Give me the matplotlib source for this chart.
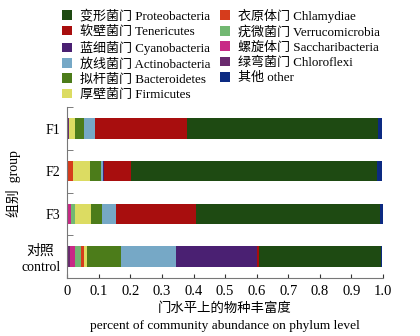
import matplotlib.pyplot as plt
import numpy as np

plt.rcParams['font.family'] = ['Liberation Serif', 'Noto Sans CJK SC']
plt.rcParams['font.size'] = 9.5

groups = ['F1', 'F2', 'F3', '对照\ncontrol']

# stacking order, left to right
phyla = ['绿弯菌门 Chloroflexi', '螺旋体门 Saccharibacteria', '疣微菌门 Verrucomicrobia',
         '衣原体门 Chlamydiae', '厚壁菌门 Firmicutes', '拟杆菌门 Bacteroidetes',
         '放线菌门 Actinobacteria', '蓝细菌门 Cyanobacteria', '软壁菌门 Tenericutes',
         '变形菌门 Proteobacteria', '其他 other']
colors = ['#6a2a6e', '#c82a86', '#72b872', '#d63c1c', '#dcdc62', '#4c7c1a',
          '#76a8c6', '#4a2072', '#a80e0e', '#1e4a12', '#0c2a82']

chloroflexi = [0.006, 0.0, 0.004, 0.0095]
saccharibacteria = [0.0, 0.0, 0.008, 0.016]
verrucomicrobia = [0.0, 0.0, 0.013, 0.018]
chlamydiae = [0.0, 0.018, 0.0, 0.010]
firmicutes = [0.020, 0.054, 0.050, 0.0085]
bacteroidetes = [0.026, 0.035, 0.034, 0.109]
actinobacteria = [0.035, 0.006, 0.046, 0.172]
cyanobacteria = [0.0, 0.005, 0.0, 0.259]
tenericutes = [0.293, 0.083, 0.252, 0.006]
proteobacteria = [0.605, 0.781, 0.584, 0.385]
other = [0.012, 0.015, 0.0095, 0.005]

values = [chloroflexi, saccharibacteria, verrucomicrobia, chlamydiae, firmicutes,
          bacteroidetes, actinobacteria, cyanobacteria, tenericutes, proteobacteria, other]

fig = plt.figure(figsize=(4.2, 3.36), dpi=100)
ax = fig.add_axes([0.160, 0.173, 0.752, 0.508])

y = np.arange(len(groups))
left = np.zeros(len(groups))
handles = {}
for name, vals, c in zip(phyla, values, colors):
    h = ax.barh(y, vals, left=left, height=0.48, color=c, label=name)
    handles[name] = h
    left += np.array(vals)

ax.set_xlim(0, 1.0)
ax.set_ylim(3.5, -0.5)
ax.set_xticks(np.arange(0, 1.01, 0.1))
ax.set_xticklabels(['0'] + ['%.1f' % v for v in np.arange(0.1, 1.01, 0.1)])
ax.set_yticks(y)
ax.set_yticklabels(groups, ha='right', multialignment='center', linespacing=1.25, fontsize=10)
ax.tick_params(axis='y', which='major', length=0, pad=5)
ax.set_yticks(np.arange(-0.5, 3.6, 1), minor=True)
ax.tick_params(axis='y', which='minor', direction='in', length=4, color='#666666')
ax.tick_params(axis='x', direction='in', length=3, color='#333333', labelsize=10.5, pad=5)
for s in ['top', 'right']:
    ax.spines[s].set_visible(False)
for s in ['left', 'bottom']:
    ax.spines[s].set_color('#777777')

ax.set_ylabel('组别  group', fontsize=10)
ax.yaxis.set_label_coords(-0.145, 0.55)
ax.set_xlabel('门水平上的物种丰富度\npercent of community abundance on phylum level',
              fontsize=9.6, linespacing=1.55, labelpad=3)

legend_order = ['变形菌门 Proteobacteria', '软壁菌门 Tenericutes', '蓝细菌门 Cyanobacteria',
                '放线菌门 Actinobacteria', '拟杆菌门 Bacteroidetes', '厚壁菌门 Firmicutes',
                '衣原体门 Chlamydiae', '疣微菌门 Verrucomicrobia', '螺旋体门 Saccharibacteria',
                '绿弯菌门 Chloroflexi', '其他 other']
fig.legend([handles[n] for n in legend_order], legend_order, ncol=2, frameon=False,
           loc='upper left', bbox_to_anchor=(0.12, 1.01), handlelength=0.75,
           handleheight=0.75, handletextpad=0.6, columnspacing=0.75, labelspacing=0.23,
           fontsize=9.4)

fig.savefig('out.png', dpi=100)
